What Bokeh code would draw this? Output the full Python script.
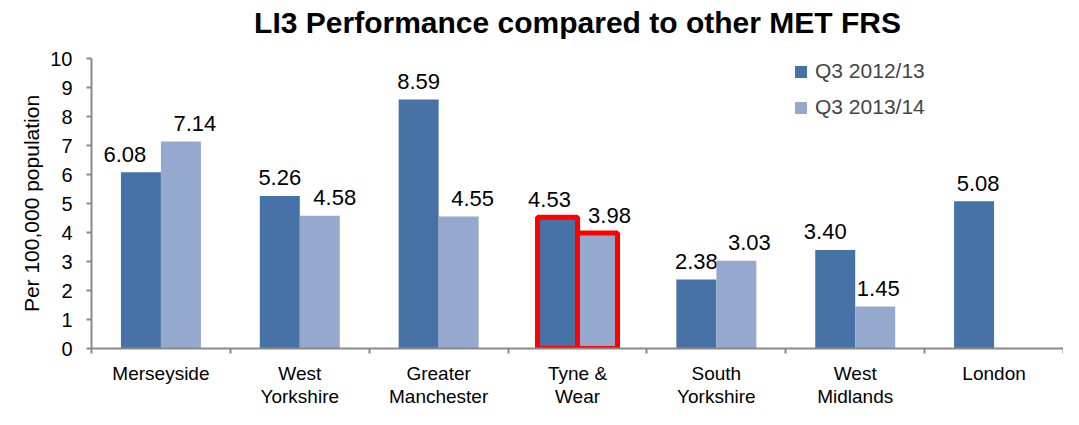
import numpy as np
from bokeh.plotting import figure
from bokeh.models import ColumnDataSource, Range1d, FixedTicker, Legend, LegendItem, Title
from bokeh.core.properties import value
from bokeh.embed import file_html
from bokeh.resources import INLINE

# ---- data ----
chart_title = "LI3 Performance compared to other MET FRS"
categories = ["Merseyside", "West\nYorkshire", "Greater\nManchester", "Tyne &\nWear",
              "South\nYorkshire", "West\nMidlands", "London"]
series_names = ["Q3 2012/13", "Q3 2013/14"]
q3_2012_13 = [6.08, 5.26, 8.59, 4.53, 2.38, 3.40, 5.08]
q3_2013_14 = [7.14, 4.58, 4.55, 3.98, 3.03, 1.45, None]
highlight = "Tyne &\nWear"
y_ticks = list(range(0, 11))
y_label = "Per 100,000 population"

# ---- styles ----
FONT = "Liberation Sans"
colors = ["#4672A6", "#95A9CE"]
bar_w = 0.288
label_dx = [[-16, 0, 0, -8, 0, -10, 4], [14, 15, 14, 12, 13, 3, 0]]

n = len(categories)
centers = np.arange(n) + 0.5

p = figure(width=1063, height=409, x_range=Range1d(0, n), y_range=Range1d(0, 10),
           output_backend="svg", toolbar_location=None, title=None,
           min_border_left=91, min_border_right=0, min_border_top=58, min_border_bottom=55)

# spacer between frame and title, then the title itself
p.add_layout(Title(text=" ", text_font_size="1px", standoff=17), "above")
p.add_layout(Title(text=chart_title, align="center", text_font=FONT, text_font_size="30px",
                   text_font_style="bold", text_color="black", standoff=0), "above")

p.outline_line_color = None
p.xgrid.grid_line_color = None
p.ygrid.grid_line_color = None

renderers = []
all_series = [q3_2012_13, q3_2013_14]
for k, vals in enumerate(all_series):
    xs = centers + (k - 0.5) * bar_w
    tops = [np.nan if v is None else v for v in vals]
    src = ColumnDataSource(dict(x=xs, top=tops))
    r = p.vbar(x="x", top="top", bottom=0, width=bar_w, source=src,
               fill_color=colors[k], line_color=None)
    renderers.append(r)
    keep = [i for i, v in enumerate(vals) if v is not None]
    lsrc = ColumnDataSource(dict(x=[xs[i] for i in keep], y=[vals[i] for i in keep],
                                 t=["%.2f" % vals[i] for i in keep],
                                 dx=[label_dx[k][i] for i in keep]))
    p.text(x="x", y="y", text="t", x_offset="dx", y_offset=-18, source=lsrc,
           text_align="center", text_baseline="middle",
           text_font=value(FONT), text_font_size="22px", text_color="black")

# highlight outline
hi = categories.index(highlight)
hx = [centers[hi] + (k - 0.5) * bar_w for k in range(2)]
htop = [all_series[k][hi] for k in range(2)]
p.vbar(x=hx, top=htop, bottom=0, width=bar_w, fill_color=None,
       line_color="#FF0000", line_width=5)

# axes
xa = p.xaxis[0]
xa.ticker = FixedTicker(ticks=list(centers), minor_ticks=list(range(n + 1)))
xa.major_label_overrides = {float(c): lab for c, lab in zip(centers, categories)}
xa.major_tick_line_color = None
xa.major_tick_out = 0
xa.major_tick_in = 0
xa.minor_tick_out = 5
xa.minor_tick_in = 0
xa.minor_tick_line_color = "#898989"
xa.minor_tick_line_width = 2
xa.axis_line_color = "#898989"
xa.axis_line_width = 2
xa.major_label_standoff = 9
xa.major_label_text_font = FONT
xa.major_label_text_font_size = "19px"
xa.major_label_text_line_height = 1.1
xa.major_label_text_color = "black"

ya = p.yaxis[0]
ya.ticker = FixedTicker(ticks=y_ticks)
ya.minor_tick_line_color = None
ya.major_tick_out = 5
ya.major_tick_in = 0
ya.major_tick_line_color = "#898989"
ya.major_tick_line_width = 2
ya.axis_line_color = "#898989"
ya.axis_line_width = 2
ya.major_label_standoff = 14
ya.major_label_text_font = FONT
ya.major_label_text_font_size = "20px"
ya.major_label_text_color = "black"
ya.axis_label = y_label
ya.axis_label_text_font = FONT
ya.axis_label_text_font_size = "21px"
ya.axis_label_text_font_style = "normal"
ya.axis_label_text_color = "black"
ya.axis_label_standoff = 4

legend = Legend(items=[LegendItem(label=series_names[k], renderers=[renderers[k]]) for k in range(2)],
                location=(702, 229), glyph_width=15, glyph_height=15, label_standoff=7,
                label_height=24, label_text_font=FONT, label_text_font_size="21px", spacing=12,
                padding=0, margin=0, border_line_color=None, background_fill_alpha=0)
p.add_layout(legend)

open("out.html", "w").write(file_html(p, INLINE))
